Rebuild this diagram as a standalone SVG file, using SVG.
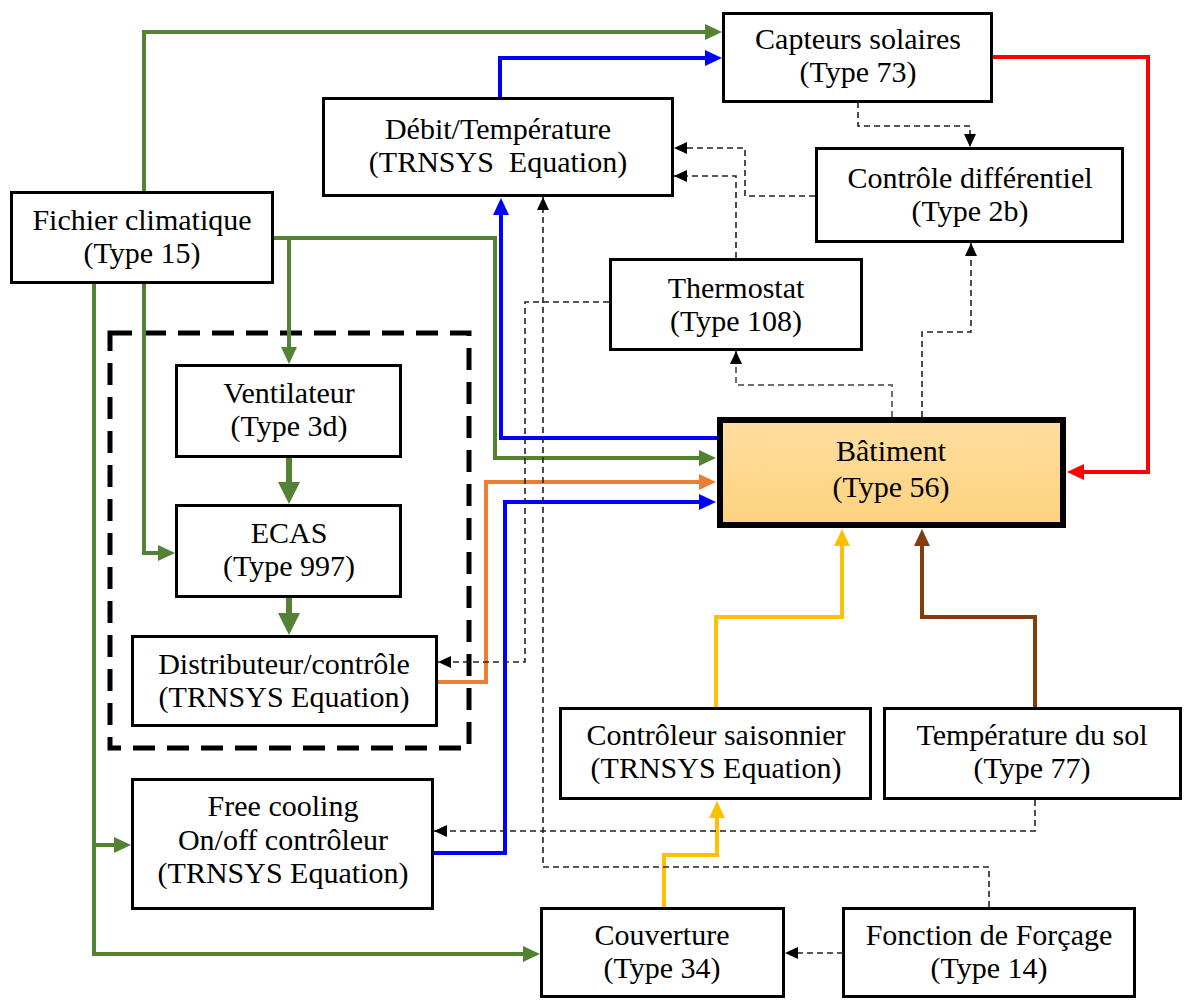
<svg xmlns="http://www.w3.org/2000/svg" width="1184" height="1000" viewBox="0 0 1184 1000">
  <style>
    .box { fill: #ffffff; stroke: #000000; stroke-width: 3; }
    .main { fill: url(#warm); stroke: #000000; stroke-width: 6; }
    .group { fill: none; stroke: #000000; stroke-width: 5; stroke-dasharray: 22 12; }
    .lbl { font-size: 30px; fill: #000000; text-anchor: middle; }
    .w { fill: none; stroke-width: 4; stroke-linejoin: miter; }
    .green { stroke: #548235; }
    .blue { stroke: #0000ff; }
    .orange { stroke: #ed7d31; }
    .red { stroke: #ff0000; }
    .yellow { stroke: #ffc000; }
    .brown { stroke: #843c0c; }
    .thick { stroke-width: 6; }
    .sig { fill: none; stroke: #222222; stroke-width: 1.6; stroke-dasharray: 6 4; }
    .sig.grey { stroke: #6e6e6e; stroke-width: 2; }
  </style>
  <defs>
    <linearGradient id="warm" x1="0" y1="0" x2="0" y2="1">
      <stop offset="0" stop-color="#ffdea0"/>
      <stop offset="1" stop-color="#fdd27e"/>
    </linearGradient>
    <marker id="ah-green" markerUnits="userSpaceOnUse" markerWidth="17" markerHeight="16" refX="9" refY="8" orient="auto">
      <path d="M0,0 L17,8 L0,16 z" fill="#548235"/>
    </marker>
    <marker id="ah-green-big" markerUnits="userSpaceOnUse" markerWidth="22" markerHeight="22" refX="11" refY="11" orient="auto">
      <path d="M0,0 L22,11 L0,22 z" fill="#548235"/>
    </marker>
    <marker id="ah-blue" markerUnits="userSpaceOnUse" markerWidth="17" markerHeight="16" refX="9" refY="8" orient="auto">
      <path d="M0,0 L17,8 L0,16 z" fill="#0000ff"/>
    </marker>
    <marker id="ah-orange" markerUnits="userSpaceOnUse" markerWidth="17" markerHeight="16" refX="9" refY="8" orient="auto">
      <path d="M0,0 L17,8 L0,16 z" fill="#ed7d31"/>
    </marker>
    <marker id="ah-red" markerUnits="userSpaceOnUse" markerWidth="17" markerHeight="16" refX="9" refY="8" orient="auto">
      <path d="M0,0 L17,8 L0,16 z" fill="#ff0000"/>
    </marker>
    <marker id="ah-yellow" markerUnits="userSpaceOnUse" markerWidth="17" markerHeight="16" refX="9" refY="8" orient="auto">
      <path d="M0,0 L17,8 L0,16 z" fill="#ffc000"/>
    </marker>
    <marker id="ah-brown" markerUnits="userSpaceOnUse" markerWidth="17" markerHeight="16" refX="9" refY="8" orient="auto">
      <path d="M0,0 L17,8 L0,16 z" fill="#843c0c"/>
    </marker>
    <marker id="ah-sig" markerUnits="userSpaceOnUse" markerWidth="13" markerHeight="12" refX="13" refY="6" orient="auto">
      <path d="M0,0 L13,6 L0,12 z" fill="#000000"/>
    </marker>
  </defs>

  <rect width="1184" height="1000" fill="#ffffff"/>

  <!-- dashed enclosure of the air-collector sub-system -->
  <rect id="subsystem" class="group" x="110" y="333" width="359" height="415"/>

  <!-- nodes -->
  <g class="lbl" font-family="Liberation Serif, Times New Roman, DejaVu Serif, serif">
    <g id="fichier">
      <rect class="box" x="11.5" y="192.5" width="261" height="90"/>
      <text x="142" y="230">Fichier climatique</text>
      <text x="142" y="263">(Type 15)</text>
    </g>
    <g id="capteurs">
      <rect class="box" x="723.5" y="13.5" width="268" height="88"/>
      <text x="858" y="49">Capteurs solaires</text>
      <text x="858" y="82">(Type 73)</text>
    </g>
    <g id="debit">
      <rect class="box" x="323.5" y="98.5" width="349" height="97"/>
      <text x="498" y="139">Débit/Température</text>
      <text x="498" y="172" xml:space="preserve">(TRNSYS  Equation)</text>
    </g>
    <g id="controle">
      <rect class="box" x="816.5" y="148.5" width="306" height="93"/>
      <text x="970" y="188">Contrôle différentiel</text>
      <text x="970" y="221">(Type 2b)</text>
    </g>
    <g id="thermostat">
      <rect class="box" x="610.5" y="259.5" width="251" height="90"/>
      <text x="736" y="298">Thermostat</text>
      <text x="736" y="331">(Type 108)</text>
    </g>
    <g id="ventilateur">
      <rect class="box" x="176.5" y="365.5" width="224" height="91"/>
      <text x="289" y="403">Ventilateur</text>
      <text x="289" y="436">(Type 3d)</text>
    </g>
    <g id="ecas">
      <rect class="box" x="176.5" y="505.5" width="224" height="91"/>
      <text x="289" y="543">ECAS</text>
      <text x="289" y="576">(Type 997)</text>
    </g>
    <g id="distributeur">
      <rect class="box" x="132.5" y="636.5" width="304" height="89"/>
      <text x="284" y="674">Distributeur/contrôle</text>
      <text x="284" y="707">(TRNSYS Equation)</text>
    </g>
    <g id="batiment">
      <rect class="main" x="720" y="420" width="343" height="105"/>
      <text x="891" y="461">Bâtiment</text>
      <text x="891" y="497">(Type 56)</text>
    </g>
    <g id="freecooling">
      <rect class="box" x="132.5" y="779.5" width="300" height="129"/>
      <text x="283" y="816">Free cooling</text>
      <text x="283" y="850">On/off contrôleur</text>
      <text x="283" y="883">(TRNSYS Equation)</text>
    </g>
    <g id="saisonnier">
      <rect class="box" x="560.5" y="708.5" width="310" height="90"/>
      <text x="716" y="745">Contrôleur saisonnier</text>
      <text x="716" y="778">(TRNSYS Equation)</text>
    </g>
    <g id="sol">
      <rect class="box" x="884.5" y="708.5" width="296" height="90"/>
      <text x="1032" y="745">Température du sol</text>
      <text x="1032" y="778">(Type 77)</text>
    </g>
    <g id="couverture">
      <rect class="box" x="541.5" y="908.5" width="242" height="88"/>
      <text x="662" y="945">Couverture</text>
      <text x="662" y="978">(Type 34)</text>
    </g>
    <g id="forcage">
      <rect class="box" x="843.5" y="908.5" width="291" height="88"/>
      <text x="989" y="945">Fonction de Forçage</text>
      <text x="989" y="978">(Type 14)</text>
    </g>
  </g>

  <!-- connectors -->
  <g id="connectors">
    <!-- weather data (green) -->
    <path class="w green" d="M144,191 V32 H714" marker-end="url(#ah-green)"/>
    <path class="w green" d="M274,238 H495 V458 H708" marker-end="url(#ah-green)"/>
    <path class="w green" d="M289,238 V356" marker-end="url(#ah-green)"/>
    <path class="w green" d="M144,284 V553 H167" marker-end="url(#ah-green)"/>
    <path class="w green" d="M94,284 V954 H532" marker-end="url(#ah-green)"/>
    <path class="w green" d="M94,845 H123" marker-end="url(#ah-green)"/>
    <path class="w green thick" d="M289,458 V493" marker-end="url(#ah-green-big)"/>
    <path class="w green thick" d="M289,598 V624" marker-end="url(#ah-green-big)"/>

    <!-- water / air flows -->
    <path class="w blue" d="M500,97 V58 H714" marker-end="url(#ah-blue)"/>
    <path class="w blue" d="M717,438 H501 V206" marker-end="url(#ah-blue)"/>
    <path class="w blue" d="M434,853 H505 V502 H708" marker-end="url(#ah-blue)"/>
    <path class="w orange" d="M438,682 H486 V482 H708" marker-end="url(#ah-orange)"/>
    <path class="w red" d="M993,57 H1148 V472 H1075" marker-end="url(#ah-red)"/>
    <path class="w yellow" d="M716,707 V617 H842 V537" marker-end="url(#ah-yellow)"/>
    <path class="w yellow" d="M664,907 V855 H717 V809" marker-end="url(#ah-yellow)"/>
    <path class="w brown" d="M1035,707 V617 H922 V537" marker-end="url(#ah-brown)"/>

    <!-- control signals (dashed) -->
    <path class="sig" d="M858,102 V126 H970 V147" marker-end="url(#ah-sig)"/>
    <path class="sig" d="M815,196 H745 V148 H674" marker-end="url(#ah-sig)"/>
    <path class="sig" d="M736,258 V176 H674" marker-end="url(#ah-sig)"/>
    <path class="sig" d="M922,417 V332 H971 V243" marker-end="url(#ah-sig)"/>
    <path class="sig grey" d="M892,417 V385 H736 V351" marker-end="url(#ah-sig)"/>
    <path class="sig" d="M609,302 H525 V662 H438" marker-end="url(#ah-sig)"/>
    <path class="sig" d="M989,907 V867 H543 V197" marker-end="url(#ah-sig)"/>
    <path class="sig" d="M1035,800 V831 H434" marker-end="url(#ah-sig)"/>
    <path class="sig" d="M843,953 H785" marker-end="url(#ah-sig)"/>
  </g>
</svg>
